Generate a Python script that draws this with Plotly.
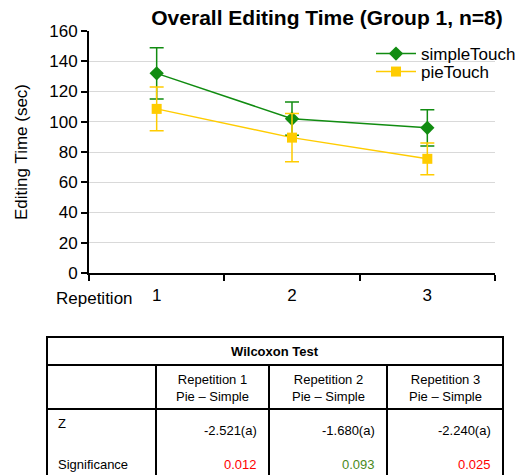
import plotly.graph_objects as go

categories = ["1", "2", "3"]
simple_vals = [132, 102, 96]
simple_err = [17, 11, 12]
pie_vals = [108.5, 89.5, 75.5]
pie_err = [14.5, 16, 10.5]
y_ticks = [0, 20, 40, 60, 80, 100, 120, 140, 160]

table_title = "Wilcoxon Test"
table_cols = ["Repetition 1<br>Pie – Simple", "Repetition 2<br>Pie – Simple", "Repetition 3<br>Pie – Simple"]
z_vals = ["-2.521(a)", "-1.680(a)", "-2.240(a)"]
sig_vals = ["0.012", "0.093", "0.025"]
sig_colors = ["#ff0000", "#4a8a20", "#ff0000"]

FONT = "Liberation Sans, Arial, sans-serif"
W, H = 523, 475
PL, PR, PT, PB = 89, 495, 31, 273  # plot area in pixels


def pxp(x):
    return (x - PL) / (PR - PL)


def py(y):
    return (PB - y) / (PB - PT)


fig = go.Figure()
fig.add_trace(go.Scatter(
    x=categories, y=simple_vals, name="simpleTouch", mode="lines+markers",
    line=dict(color="#118c11", width=1.5),
    marker=dict(symbol="diamond", size=11, color="#118c11"),
    error_y=dict(type="data", array=simple_err, color="#118c11", thickness=1.5, width=7),
    legend="legend",
))
fig.add_trace(go.Scatter(
    x=categories, y=pie_vals, name="pieTouch", mode="lines+markers",
    line=dict(color="#ffcc00", width=1.5),
    marker=dict(symbol="square", size=10, color="#ffcc00"),
    error_y=dict(type="data", array=pie_err, color="#ffcc00", thickness=1.5, width=7),
    legend="legend2",
))

shapes = []
# white area behind title (hides top gridline right part)
shapes.append(dict(type="rect", xref="paper", yref="paper", layer="between",
                   x0=pxp(145), x1=pxp(523), y0=py(36), y1=py(0),
                   fillcolor="white", line=dict(width=0)))
# white area behind legend
shapes.append(dict(type="rect", xref="paper", yref="paper", layer="between",
                   x0=pxp(352), x1=pxp(523), y0=py(83), y1=py(44),
                   fillcolor="white", line=dict(width=0)))

# Table grid
lx, rx = 47, 503
top, r1, r2, bot = 337, 365, 409, 480
bounds = [156, 269, 387, 503]
line = dict(color="black", width=2)
shapes.append(dict(type="rect", xref="paper", yref="paper", x0=pxp(lx), x1=pxp(rx),
                   y0=py(bot), y1=py(top), line=line))
for yy in (r1, r2):
    shapes.append(dict(type="line", xref="paper", yref="paper", x0=pxp(lx), x1=pxp(rx),
                       y0=py(yy), y1=py(yy), line=line))
for cx in bounds[:3]:
    shapes.append(dict(type="line", xref="paper", yref="paper", x0=pxp(cx), x1=pxp(cx),
                       y0=py(r1), y1=py(bot), line=line))

TF = dict(family=FONT, size=13, color="black")


def ann(text, x, y, xa="center", font=TF):
    return dict(text=text, xref="paper", yref="paper", x=pxp(x), y=py(y),
                xanchor=xa, yanchor="middle", showarrow=False, font=font)


annotations = [ann("<b>" + table_title + "</b>", (lx + rx) / 2, 351)]
for i, t in enumerate(table_cols):
    annotations.append(ann(t, (bounds[i] + bounds[i + 1]) / 2, 388))
annotations.append(ann("Z", 56, 423, "left"))
annotations.append(ann("Significance", 56, 464, "left"))
for i in range(3):
    annotations.append(ann(z_vals[i], bounds[i + 1] - 10, 430, "right"))
    annotations.append(ann(sig_vals[i], bounds[i + 1] - 10, 464, "right",
                           dict(family=FONT, size=13, color=sig_colors[i])))
annotations.append(ann("Repetition", 54, 298, "left", dict(family=FONT, size=17, color="black")))

fig.update_layout(
    width=W, height=H,
    margin=dict(l=PL, r=W - PR, t=PT, b=H - PB, autoexpand=False),
    paper_bgcolor="white", plot_bgcolor="white",
    font=dict(family=FONT, size=17, color="black"),
    title=dict(text="<b>Overall Editing Time (Group 1, n=8)</b>", x=327 / W, xanchor="center",
               y=1 - 18 / H, yanchor="middle", font=dict(family=FONT, size=21, color="black")),
    showlegend=True,
    legend=dict(x=pxp(371), y=py(54), xanchor="left", yanchor="middle", bgcolor="rgba(0,0,0,0)",
                font=dict(family=FONT, size=17, color="black"), itemwidth=40),
    legend2=dict(x=pxp(371), y=py(72), xanchor="left", yanchor="middle", bgcolor="rgba(0,0,0,0)",
                 font=dict(family=FONT, size=17, color="black"), itemwidth=40),
    xaxis=dict(type="category", tickson="boundaries", ticks="outside", ticklen=6, tickwidth=2,
               tickcolor="black", showline=True, linecolor="black", linewidth=2,
               showgrid=False, range=[-0.5, 2.5], tickfont=dict(family=FONT, size=17),
               ticklabelstandoff=6, automargin=False),
    yaxis=dict(range=[0, 160], tickvals=y_ticks, ticks="outside", ticklen=6, tickwidth=2,
               tickcolor="black", showline=True, linecolor="black", linewidth=2,
               showgrid=True, gridcolor="#d9d9d9", gridwidth=1, zeroline=False,
               title=dict(text="Editing Time (sec)", font=dict(family=FONT, size=17), standoff=17),
               tickfont=dict(family=FONT, size=17), automargin=False),
    shapes=shapes, annotations=annotations,
)

fig.write_html("out.html", config={"displayModeBar": False},
               post_script="document.body.style.margin='0';")
